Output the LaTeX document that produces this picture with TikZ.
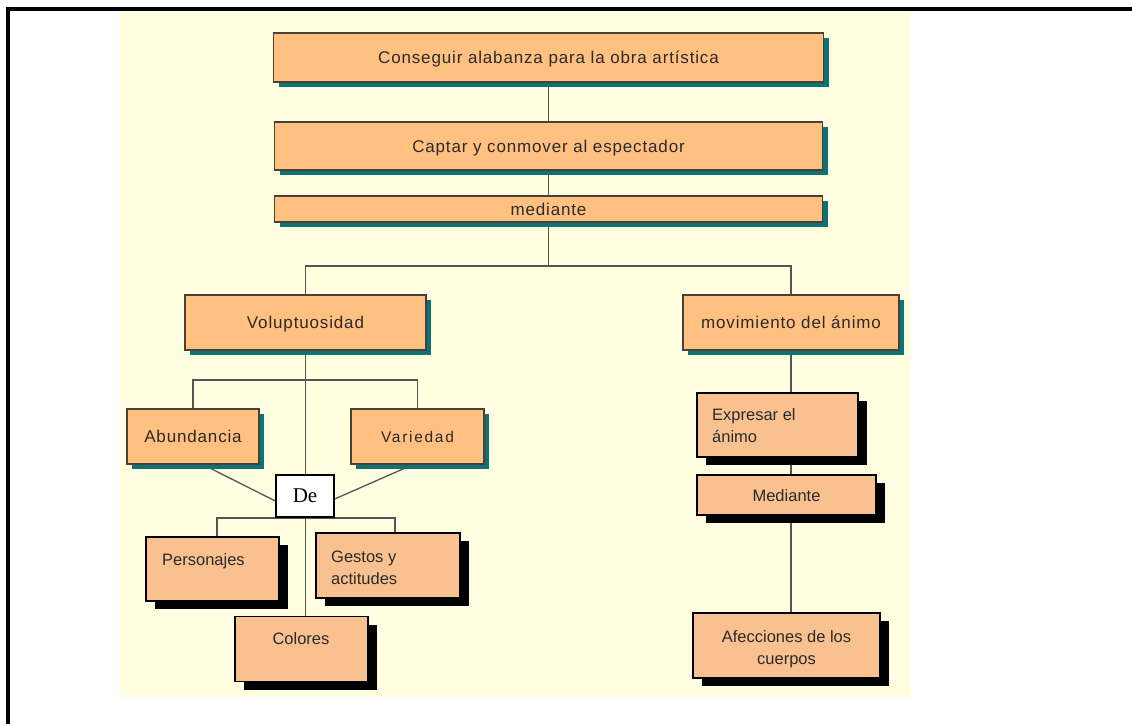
\documentclass[tikz,border=0pt]{standalone}
\usepackage{fontspec}
\setmainfont{Liberation Sans}
\newfontfamily\spacedfont{Liberation Sans}[LetterSpace=5]
\newfontfamily\widefont{Liberation Sans}[LetterSpace=11]
\newfontfamily\defont{Liberation Serif}
\usetikzlibrary{shadows}
\pgfdeclarelayer{bg}
\pgfdeclarelayer{lines}
\pgfsetlayers{bg,lines,main}
\definecolor{bgyellow}{HTML}{FFFEE0}
\definecolor{topfill}{HTML}{FFC080}
\definecolor{lowfill}{HTML}{F9C190}
\definecolor{boxline}{HTML}{4A4038}
\definecolor{tealsh}{HTML}{0B7373}
\definecolor{txtcol}{HTML}{2B2B2B}
\definecolor{conncol}{HTML}{555555}
\tikzset{
  topbox/.style={draw=boxline, line width=1.2pt, fill=topfill, text=txtcol,
    font=\spacedfont\fontsize{17}{20}\selectfont, inner sep=0pt,
    text height=12pt, text depth=0pt,
    drop shadow={fill=tealsh, opacity=1, shadow xshift=5pt, shadow yshift=-5pt}},
  lowbox/.style={draw=black, line width=1.2pt, fill=lowfill, text=txtcol, inner sep=0pt,
    font=\fontsize{16.5}{22}\selectfont, text height=12pt, text depth=0pt,
    drop shadow={fill=black, opacity=1, shadow xshift=9pt, shadow yshift=-8pt}},
  lowtext/.style={text=txtcol, font=\fontsize{16.5}{22}\selectfont, inner sep=0pt},
  conn/.style={draw=conncol, line width=1.3pt},
  debox/.style={draw=black, line width=1.2pt, fill=white, inner sep=0pt,
    font=\defont\fontsize{21}{24}\selectfont},
}
\begin{document}
\begin{tikzpicture}[x=1pt,y=-1pt]
\useasboundingbox (0,0) rectangle (1132,724);
% boxes
\node[topbox, minimum width=550pt, minimum height=49pt] (goal) at (548.5,57.5) {Conseguir alabanza para la obra artística};
\node[topbox, minimum width=548pt, minimum height=48pt] (captar) at (548.5,146) {Captar y conmover al espectador};
\node[topbox, minimum width=548pt, minimum height=26pt] (med) at (548.5,209) {mediante};
\node[topbox, minimum width=241pt, minimum height=55pt] (vol) at (305.5,322.5) {Voluptuosidad};
\node[topbox, minimum width=216pt, minimum height=55pt] (mov) at (791,322.5) {movimiento del ánimo};
\node[topbox, minimum width=132pt, minimum height=55pt] (abu) at (193,436.5) {Abundancia};
\node[topbox, minimum width=133pt, minimum height=55pt, font=\widefont\fontsize{15.5}{18}\selectfont] (var) at (417.5,436.5) {Variedad};
\node[debox, minimum width=58pt, minimum height=42pt] (de) at (305,496) {De};
\node[lowbox, minimum width=133pt, minimum height=64pt] (pers) at (212.5,569) {};
\node[lowbox, minimum width=144pt, minimum height=65pt] (ges) at (388,565.5) {};
\node[lowbox, minimum width=133pt, minimum height=65pt] (col) at (301.5,649) {};
\node[lowbox, minimum width=161pt, minimum height=64pt] (expr) at (777.5,425) {};
\node[lowbox, minimum width=179pt, minimum height=40pt] (medi) at (786.5,495) {Mediante};
\node[lowbox, minimum width=187pt, minimum height=65pt] (aff) at (786.5,645.5) {};
% texts in the shadowed boxes
\node[lowtext, anchor=base west] (perst) at (162,565) {Personajes};
\node[lowtext, anchor=north west, align=left] (gest) at (331,551) {Gestos y\\actitudes};
\node[lowtext, anchor=base] (colt) at (301,644) {Colores};
\node[lowtext, anchor=north west, align=left] (exprt) at (712,408) {Expresar el\\ánimo};
\node[lowtext, anchor=north, align=center] (afft) at (786.5,630) {Afecciones de los\\cuerpos};
% connectors
\begin{pgfonlayer}{lines}
\draw[conn] (goal.south) -- (captar.north);
\draw[conn] (captar.south) -- (med.north);
\coordinate (j1) at (548.5,266);
\draw[conn] (med.south) -- (j1);
\draw[conn] (vol.north) |- (j1) -| (mov.north);
\draw[conn] (vol.south) -- (vol.south |- col.north);
\coordinate (j2) at (305.5,380);
\draw[conn] (abu.north) |- (j2) -| (var.north);
\draw[conn] ([xshift=10pt]abu.south) -- ([yshift=-5pt]de.west);
\draw[conn] ([xshift=-4.5pt]var.south) -- ([yshift=-3pt]de.east);
\coordinate (d1) at (217,518);
\coordinate (d2) at (395,518);
\draw[conn] (pers.north -| d1) -- (d1) -- (d2) -- (ges.north -| d2);
\draw[conn] (mov.south) -- (mov.south |- aff.north);
\end{pgfonlayer}
\begin{pgfonlayer}{bg}
\fill[bgyellow] (120,11) rectangle (911,697);
\end{pgfonlayer}
% frame
\draw[line width=4pt] (8,724) -- (8,9) -- (1132,9);
\end{tikzpicture}
\end{document}
